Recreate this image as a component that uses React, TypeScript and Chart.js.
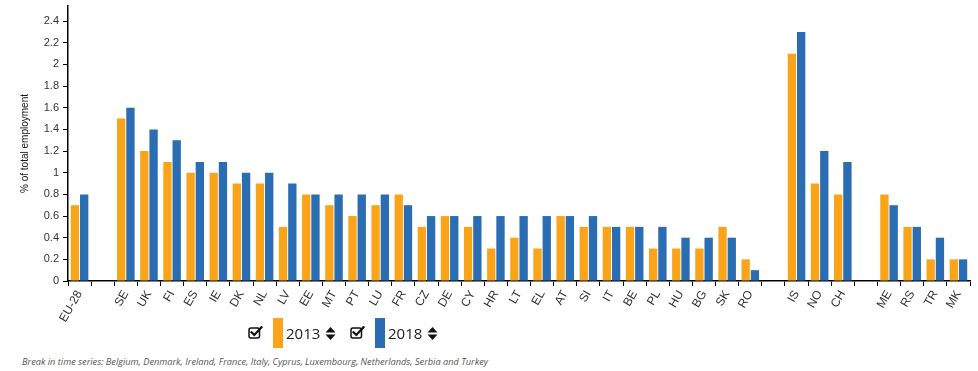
import React, { useEffect, useRef } from "react";
import { Chart, registerables } from "chart.js";

Chart.register(...registerables);

// Country codes; empty strings are spacer slots between country groups
const countries = [
  "EU-28", "", "SE", "UK", "FI", "ES", "IE", "DK", "NL", "LV", "EE", "MT", "PT", "LU", "FR",
  "CZ", "DE", "CY", "HR", "LT", "EL", "AT", "SI", "IT", "BE", "PL", "HU", "BG", "SK", "RO",
  "", "IS", "NO", "CH", "", "ME", "RS", "TR", "MK",
];

// Share of total employment (%), 2013
const values2013 = [
  0.7, null, 1.5, 1.2, 1.1, 1.0, 1.0, 0.9, 0.9, 0.5, 0.8, 0.7, 0.6, 0.7, 0.8,
  0.5, 0.6, 0.5, 0.3, 0.4, 0.3, 0.6, 0.5, 0.5, 0.5, 0.3, 0.3, 0.3, 0.5, 0.2,
  null, 2.1, 0.9, 0.8, null, 0.8, 0.5, 0.2, 0.2,
];

// Share of total employment (%), 2018
const values2018 = [
  0.8, null, 1.6, 1.4, 1.3, 1.1, 1.1, 1.0, 1.0, 0.9, 0.8, 0.8, 0.8, 0.8, 0.7,
  0.6, 0.6, 0.6, 0.6, 0.6, 0.6, 0.6, 0.6, 0.5, 0.5, 0.5, 0.4, 0.4, 0.4, 0.1,
  null, 2.3, 1.2, 1.1, null, 0.7, 0.5, 0.4, 0.2,
];

const seriesLabels = ["2013", "2018"];
const seriesColors = ["#FAA519", "#2A6DB3"];

const yTickStep = 0.2;
const yMax = 2.54;

const axisFont = "'Liberation Sans', Arial, sans-serif";
const uiFont = "'Open Sans', sans-serif";

function CheckIcon() {
  return (
    <svg width="15" height="13" viewBox="0 0 15 13" style={{ display: "block" }}>
      <rect x="1" y="2" width="10.5" height="10" rx="2" ry="2" fill="none" stroke="#111" strokeWidth="1.5" />
      <path d="M3.5 6.2 L6.3 9 L13.5 1.2" fill="none" stroke="#111" strokeWidth="2.2" strokeLinecap="square" />
    </svg>
  );
}

function SortIcon() {
  return (
    <svg width="11" height="15" viewBox="0 0 11 15" style={{ display: "block" }}>
      <polygon points="0.5,6.5 5.5,1 10.5,6.5" fill="#111" />
      <polygon points="0.5,8.5 5.5,14 10.5,8.5" fill="#111" />
    </svg>
  );
}

function LegendItem({ left, color, label }: { left: number; color: string; label: string }) {
  return (
    <>
      <div style={{ position: "absolute", left, top: 326 }}>
        <CheckIcon />
      </div>
      <div style={{ position: "absolute", left: left + 25, top: 318, width: 10, height: 30, background: color }} />
      <div
        style={{
          position: "absolute",
          left: left + 38,
          top: 323,
          fontFamily: uiFont,
          fontSize: 15,
          lineHeight: "20px",
          color: "#222",
        }}
      >
        {label}
      </div>
      <div style={{ position: "absolute", left: left + 77, top: 326 }}>
        <SortIcon />
      </div>
    </>
  );
}

export default function App() {
  const canvasRef = useRef<HTMLCanvasElement | null>(null);

  useEffect(() => {
    const canvas = canvasRef.current;
    if (!canvas) return;
    const chart = new Chart(canvas, {
      type: "bar",
      data: {
        labels: countries,
        datasets: [
          {
            label: seriesLabels[0],
            data: values2013,
            backgroundColor: seriesColors[0],
            borderWidth: 0,
          },
          {
            label: seriesLabels[1],
            data: values2018,
            backgroundColor: seriesColors[1],
            borderWidth: 0,
          },
        ],
      },
      options: {
        responsive: false,
        animation: false,
        maintainAspectRatio: false,
        layout: { padding: { top: 6, right: 8, left: 15, bottom: 0 } },
        plugins: {
          legend: { display: false },
          tooltip: { enabled: false },
        },
        scales: {
          x: {
            grid: {
              offset: true,
              drawOnChartArea: false,
              drawTicks: true,
              tickLength: 5,
              color: "#000",
            },
            border: { color: "#000", width: 1.5 },
            ticks: {
              autoSkip: false,
              minRotation: 60,
              maxRotation: 60,
              padding: 2,
              color: "#333",
              font: { family: axisFont, size: 12 },
            },
            afterFit: (scale: any) => {
              scale.height = 49;
              scale.paddingLeft = 0;
              scale.paddingRight = 0;
            },
          },
          y: {
            min: 0,
            max: yMax,
            grid: {
              drawOnChartArea: false,
              drawTicks: true,
              tickLength: 5,
              color: "#000",
            },
            border: { color: "#000", width: 1.5 },
            ticks: {
              stepSize: yTickStep,
              padding: 4,
              color: "#333",
              font: { family: axisFont, size: 11 },
              callback: (v: any) => String(Math.round(Number(v) * 10) / 10),
            },
            afterBuildTicks: (scale: any) => {
              scale.ticks = scale.ticks.filter(
                (t: any) => Math.abs(t.value / yTickStep - Math.round(t.value / yTickStep)) < 1e-6
              );
            },
            title: {
              display: true,
              text: "% of total employment",
              color: "#111",
              font: { family: axisFont, size: 10 },
              padding: { top: 4, bottom: 4 },
            },
            afterFit: (scale: any) => {
              scale.width = 53;
              scale.paddingTop = 0;
              scale.paddingBottom = 0;
            },
          },
        },
      },
    });
    return () => chart.destroy();
  }, []);

  return (
    <div style={{ position: "fixed", left: 0, top: 0, width: 978, height: 371, background: "#fff" }}>
      <canvas ref={canvasRef} width={978} height={330} style={{ position: "absolute", left: 0, top: 0 }} />
      <LegendItem left={248} color={seriesColors[0]} label={seriesLabels[0]} />
      <LegendItem left={350} color={seriesColors[1]} label={seriesLabels[1]} />
      <div
        style={{
          position: "absolute",
          left: 22,
          top: 355,
          fontFamily: uiFont,
          fontStyle: "italic",
          fontSize: 9.2,
          lineHeight: "14px",
          color: "#555",
          whiteSpace: "nowrap",
        }}
      >
        Break in time series: Belgium, Denmark, Ireland, France, Italy, Cyprus, Luxembourg, Netherlands, Serbia and Turkey
      </div>
    </div>
  );
}
